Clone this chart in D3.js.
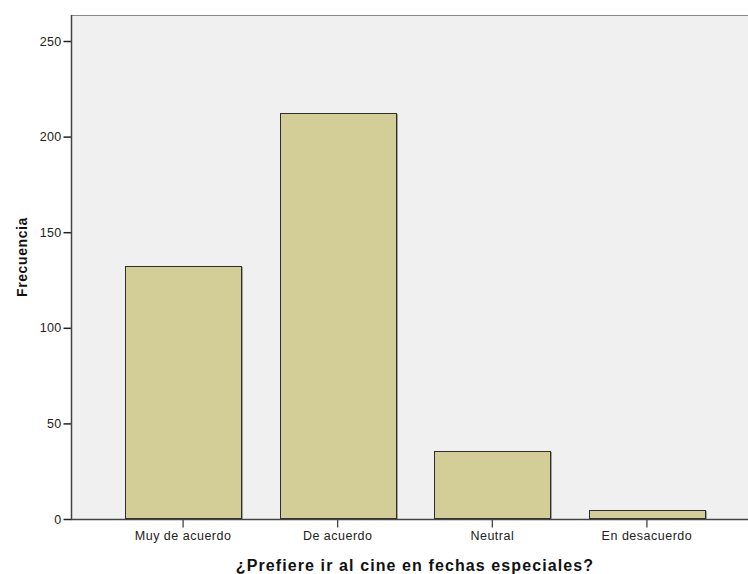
<!DOCTYPE html>
<html>
<head>
<meta charset="utf-8">
<script src="https://cdn.jsdelivr.net/npm/d3@7"></script>
<style>
  html, body { margin: 0; padding: 0; background: #fff; }
  svg { display: block; }
</style>
</head>
<body>
<svg id="chart" width="748" height="574"></svg>
<script>
// Respuestas a la pregunta y su frecuencia
const categories = ["Muy de acuerdo", "De acuerdo", "Neutral", "En desacuerdo"];
const frequencies = [132, 212, 35, 4];
const yTicks = [0, 50, 100, 150, 200, 250];

const svg = d3.select("#chart");
const font = "'Liberation Sans', Arial, sans-serif";

const plot = { left: 71, right: 759, top: 15, bottom: 519 };

const x = d3.scaleBand()
  .domain(categories)
  .range([plot.left, plot.right])
  .paddingInner(0.25)
  .paddingOuter(0.35);

const y = d3.scaleLinear()
  .domain([0, 263.6])
  .range([plot.bottom, plot.top]);

// Fondo del área de trazado
svg.append("rect")
  .attr("x", plot.left)
  .attr("y", plot.top)
  .attr("width", plot.right - plot.left)
  .attr("height", plot.bottom - plot.top)
  .attr("fill", "#f0f0f0");

// Borde superior
svg.append("line")
  .attr("x1", plot.left).attr("x2", plot.right)
  .attr("y1", plot.top + 0.5).attr("y2", plot.top + 0.5)
  .attr("stroke", "#8a8a8a").attr("stroke-width", 1.2);

// Barras (con una ligera sombra a la derecha)
const bars = svg.append("g");
bars.selectAll("line.shadow")
  .data(frequencies)
  .join("line")
  .attr("class", "shadow")
  .attr("x1", (d, i) => Math.round(x(categories[i]) + x.bandwidth()) + 1.5)
  .attr("x2", (d, i) => Math.round(x(categories[i]) + x.bandwidth()) + 1.5)
  .attr("y1", d => Math.round(y(d)))
  .attr("y2", plot.bottom)
  .attr("stroke", "#a0a0a0")
  .attr("stroke-width", 1);

bars.selectAll("rect.bar")
  .data(frequencies)
  .join("rect")
  .attr("class", "bar")
  .attr("x", (d, i) => Math.round(x(categories[i])) + 0.5)
  .attr("y", d => Math.round(y(d)) - 0.5)
  .attr("width", Math.round(x.bandwidth()))
  .attr("height", d => plot.bottom - Math.round(y(d)))
  .attr("fill", "#d3ce97")
  .attr("stroke", "#2e2e2e")
  .attr("stroke-width", 1);

// Eje Y
const yAxis = svg.append("g")
  .attr("transform", `translate(${plot.left + 0.5},0)`)
  .call(d3.axisLeft(y).tickValues(yTicks).tickSize(8).tickPadding(2).tickSizeOuter(0));
yAxis.select(".domain").remove();
yAxis.append("line")
  .attr("x1", 0).attr("x2", 0)
  .attr("y1", plot.top).attr("y2", plot.bottom)
  .attr("stroke", "#444").attr("stroke-width", 1.5);
yAxis.selectAll(".tick line").attr("stroke", "#222").attr("stroke-width", 1.5);
yAxis.selectAll(".tick text")
  .attr("font-family", font).attr("font-size", 12.5)
  .attr("letter-spacing", 0.3).attr("fill", "#222");

// Eje X
const xAxis = svg.append("g")
  .attr("transform", `translate(0,${plot.bottom + 0.5})`)
  .call(d3.axisBottom(x).tickSize(8).tickPadding(4).tickSizeOuter(0));
xAxis.select(".domain").remove();
xAxis.append("line")
  .attr("x1", plot.left).attr("x2", plot.right)
  .attr("y1", 0).attr("y2", 0)
  .attr("stroke", "#444").attr("stroke-width", 1.5);
xAxis.selectAll(".tick line").attr("stroke", "#333").attr("stroke-width", 1.2);
xAxis.selectAll(".tick text")
  .attr("font-family", font).attr("font-size", 12.5)
  .attr("letter-spacing", 0.5).attr("fill", "#222");

// Títulos de los ejes
svg.append("text")
  .attr("transform", `translate(27,${257}) rotate(-90)`)
  .attr("text-anchor", "middle")
  .attr("font-family", font).attr("font-size", 14).attr("font-weight", "bold")
  .attr("letter-spacing", 0.6)
  .attr("fill", "#111")
  .text("Frecuencia");

svg.append("text")
  .attr("x", 415)
  .attr("y", 571)
  .attr("text-anchor", "middle")
  .attr("font-family", font).attr("font-size", 16).attr("font-weight", "bold")
  .attr("letter-spacing", 1.1)
  .attr("fill", "#111")
  .text("¿Prefiere ir al cine en fechas especiales?");
</script>
</body>
</html>
